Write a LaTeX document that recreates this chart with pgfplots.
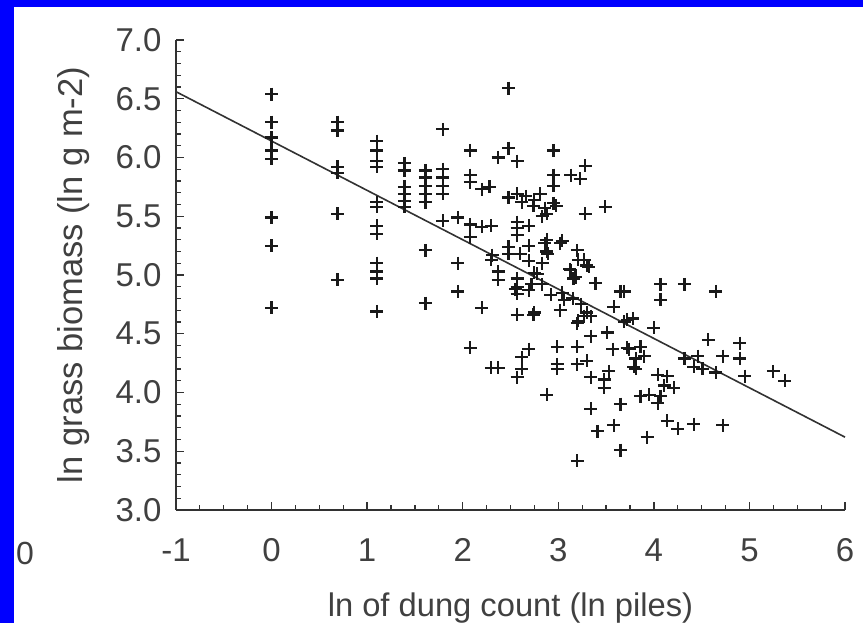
\documentclass[border=0pt]{standalone}
\usepackage{fontspec}
\setmainfont{Liberation Sans}
\usepackage{pgfplots}
\pgfplotsset{compat=1.18}
\usepackage{pgfplotstable}
\definecolor{frameblue}{RGB}{0,0,255}
\definecolor{inkgray}{RGB}{64,64,64}
\definecolor{axgray}{RGB}{50,50,50}
\definecolor{markink}{RGB}{25,25,25}

% ln dung count vs ln grass biomass
\pgfplotstableread{
x y
0 6.54
0 6.30
0 6.17
0 6.06
0 5.99
0 5.49
0 5.25
0 4.72
0.69 6.30
0.69 6.23
0.69 5.92
0.69 5.87
0.69 5.52
0.69 4.96
1.10 6.14
1.10 6.06
1.10 5.97
1.10 5.92
1.10 5.62
1.10 5.58
1.10 5.42
1.10 5.35
1.10 5.10
1.10 5.03
1.10 4.97
1.10 4.69
1.39 5.95
1.39 5.89
1.39 5.75
1.39 5.69
1.39 5.63
1.39 5.58
1.61 5.89
1.61 5.83
1.61 5.76
1.61 5.69
1.61 5.62
1.61 5.21
1.61 4.76
1.79 6.24
1.79 5.90
1.79 5.83
1.79 5.76
1.79 5.69
1.79 5.46
1.95 5.49
1.95 5.10
1.95 4.86
2.08 6.06
2.08 5.85
2.08 5.79
2.08 5.43
2.08 5.32
2.08 4.38
2.20 5.73
2.20 5.41
2.20 4.72
2.30 5.42
2.30 5.13
2.30 4.21
2.28 5.75
2.37 6.00
2.37 5.03
2.37 4.96
2.37 4.21
2.48 6.59
2.48 6.08
2.48 5.66
2.48 5.24
2.48 5.18
2.57 5.97
2.57 5.69
2.57 5.45
2.57 5.40
2.57 5.34
2.57 4.90
2.57 4.84
2.57 4.66
2.57 4.13
2.62 5.62
2.62 4.30
2.62 4.20
2.69 5.25
2.69 5.42
2.69 4.87
2.69 4.37
2.74 5.59
2.74 4.66
2.78 5.01
2.81 5.69
2.88 5.52
2.88 5.30
2.88 5.20
2.88 3.98
2.95 6.06
2.95 5.85
2.95 5.76
2.95 5.61
2.99 4.39
2.99 4.24
2.99 4.20
3.02 5.27
3.02 4.70
3.06 4.79
3.13 5.85
3.13 5.04
3.16 4.97
3.20 5.21
3.20 4.59
3.20 4.39
3.20 4.24
3.20 3.42
3.23 5.82
3.27 5.13
3.27 4.65
3.28 5.93
3.28 5.52
3.30 4.27
3.32 5.07
3.34 4.48
3.34 4.13
3.34 3.86
3.39 4.93
3.41 3.67
3.48 4.11
3.48 4.04
3.49 5.58
3.51 4.51
3.53 4.18
3.57 4.37
3.58 4.73
3.58 3.72
3.65 4.86
3.65 3.90
3.65 3.51
3.69 4.86
3.69 4.60
3.72 4.62
3.72 4.38
3.74 4.37
3.79 4.22
3.78 4.63
3.81 4.29
3.81 4.20
3.86 4.39
3.86 3.97
3.90 4.31
3.93 3.62
3.95 3.98
4.00 4.55
4.04 4.15
4.04 3.91
4.07 4.92
4.07 4.79
4.07 3.97
4.11 4.06
4.14 4.14
4.14 3.76
4.21 4.04
4.25 3.69
4.32 4.92
4.32 4.29
4.42 4.22
4.42 3.73
4.46 4.31
4.51 4.20
4.57 4.45
4.65 4.86
4.65 4.17
4.72 4.31
4.72 3.72
4.90 4.42
4.90 4.29
4.95 4.14
5.25 4.18
5.37 4.10
3.04 5.29
3.21 5.13
3.12 5.05
3.30 5.08
3.18 4.98
3.04 4.85
3.15 4.80
3.24 4.75
3.30 4.68
3.21 4.61
2.60 5.18
2.69 5.12
2.86 5.27
2.89 5.18
2.83 5.10
2.75 5.02
2.57 4.97
2.55 4.88
2.72 4.92
2.83 4.92
2.92 4.83
2.75 4.68
2.31 5.17
2.66 5.67
2.75 5.64
2.86 5.57
2.83 5.50
2.98 5.59
3.34 4.65
}\dungdata

\begin{document}
\begin{tikzpicture}[x=1pt,y=1pt]
\fill[frameblue] (0,0) rectangle (863,623);
\fill[white] (14,0) rectangle (863,616);
\useasboundingbox (0,0) rectangle (863,623);
\node[inkgray, font=\fontsize{32}{38}\selectfont] at (25,70) {0};
\begin{axis}[
    at={(176pt,113pt)}, anchor=south west,
    scale only axis,
    width=669pt, height=470pt,
    xmin=-1, xmax=6, ymin=3, ymax=7,
    axis x line=bottom, axis y line=left,
    axis line style={-, axgray, line width=1.6pt},
    every tick/.style={axgray, line width=1.4pt},
    minor tick style={axgray, line width=1.2pt},
    tick align=inside,
    major tick length=8pt, minor tick length=5pt,
    xtick={-1,0,1,2,3,4,5,6},
    xticklabels={-1,0,1,2,3,4,5,6},
    minor x tick num=3,
    ytick={3,3.5,4,4.5,5,5.5,6,6.5,7},
    yticklabels={3.0,3.5,4.0,4.5,5.0,5.5,6.0,6.5,7.0},
    minor y tick num=4,
    ticklabel style={inkgray, font=\fontsize{33}{39}\selectfont},
    xticklabel style={yshift=-25pt},
    yticklabel style={xshift=-11pt},
    xlabel={ln of dung count (ln piles)},
    ylabel={ln grass biomass (ln g m-2)},
    xlabel style={inkgray, font=\fontsize{32.7}{39}\selectfont,
        at={(axis description cs:0.5,0)}, anchor=center, yshift=-98pt},
    ylabel style={inkgray, font=\fontsize{34.5}{41}\selectfont,
        at={(axis description cs:0,0.5)}, anchor=center, yshift=102pt},
    clip=false,
]
\addplot[no marks, axgray, line width=1.6pt] coordinates {(-1,6.56) (6,3.62)};
\addplot[only marks, mark=+, mark size=6.5pt, markink, mark options={line width=2.2pt}] table[x=x,y=y] {\dungdata};
\end{axis}
\end{tikzpicture}
\end{document}
